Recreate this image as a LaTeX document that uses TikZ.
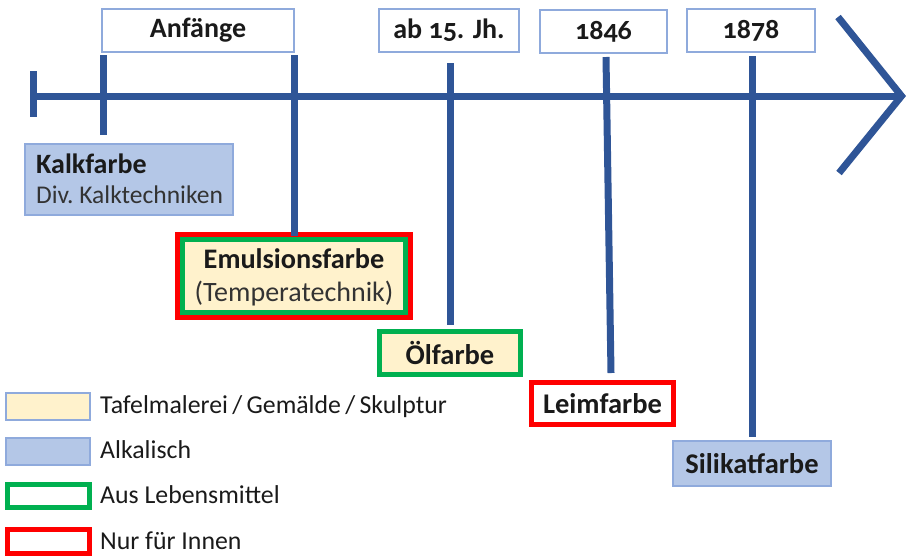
\documentclass[tikz,border=0pt]{standalone}
\usepackage{fontspec}
\setmainfont{Carlito}[Numbers=OldStyle]
\definecolor{axisblue}{HTML}{2F5597}
\definecolor{frameblue}{HTML}{8FAADC}
\definecolor{fillblue}{HTML}{B4C7E7}
\definecolor{cream}{HTML}{FFF2CC}
\definecolor{okgreen}{HTML}{00B050}
\definecolor{inred}{HTML}{FF0000}
\definecolor{txt}{HTML}{1A1A1A}
\definecolor{subtxt}{HTML}{333333}
\newcommand{\fs}[1]{\fontsize{#1}{#1}\selectfont}
\tikzset{
  axis/.style={draw=axisblue, line width=7pt},
  datebox/.style={draw=frameblue, fill=white, line width=1.2pt, inner sep=0pt, outer sep=0pt,
    minimum height=43pt, font=\fs{28}\bfseries, text=txt},
  alkbox/.style={draw=frameblue, fill=fillblue, line width=1.2pt, inner sep=0pt, outer sep=0pt, text=txt},
  foodbox/.style={draw=okgreen, fill=cream, line width=5pt, inner sep=0pt, outer sep=0pt, text=txt},
  indoorbox/.style={draw=inred, fill=white, line width=5pt, inner sep=0pt, outer sep=0pt, text=txt},
  panelbox/.style={draw=frameblue, fill=cream, line width=1.2pt, inner sep=0pt, outer sep=0pt},
  boxlabel/.style={font=\fs{28.5}\bfseries},
  headline/.style={inner sep=0pt, text=txt, font=\fs{28.3}\bfseries},
  subline/.style={inner sep=0pt, text=subtxt, font=\fs{28}},
  keytext/.style={anchor=base west, inner sep=0pt, font=\fs{25.8}, text=txt},
}
\begin{document}
\begin{tikzpicture}[x=1pt, y=-1pt]
\useasboundingbox (0,0) rectangle (910,558);

% date labels above the axis
\node[datebox, minimum width=192pt] (anf)  at (198,30.5)   {Anfänge};
\node[datebox, minimum width=140pt] (ab15) at (449,30.5)   {ab 15. Jh.};
\node[datebox, minimum width=127pt] (y1846) at (603.5,31.5) {1846};
\node[datebox, minimum width=128pt] (y1878) at (751,30.5)  {1878};

% time axis with its arrow head
\coordinate (axL) at (33,96);
\coordinate (tip) at (899,96);
\coordinate (headT) at (838,17);
\coordinate (headB) at (839,173);
\coordinate (tipP) at (901.5,96);
\draw[axis] (axL) -- (tip);
\draw[axis, line join=miter] (headT) -- (tipP) -- (headB);
\coordinate (endT) at (33,71);
\coordinate (endB) at (33,117);
\draw[axis] (endT) -- (endB);

% paint types
\node[alkbox, minimum width=208pt, minimum height=71pt] (kalk) at (129,179.5) {};
\node[headline, anchor=base west, font=\fs{28}\bfseries] (kalkname) at (36,173) {Kalkfarbe};
\node[subline, anchor=base west, font=\fs{25.5}] (kalksub) at (36,203) {Div.\ Kalktechniken};

\node[foodbox, minimum width=223pt, minimum height=73pt] (emul) at (294,276) {};
\draw[inred, line width=5pt] ([shift={(-5pt,5pt)}]emul.north west) rectangle ([shift={(5pt,-5pt)}]emul.south east);
\node[headline, anchor=base] (emulname) at (294,268) {Emulsionsfarbe};
\node[subline, anchor=base] (emulsub) at (294,301) {(Temperatechnik)};

\node[foodbox, boxlabel, minimum width=141pt, minimum height=43pt] (oel) at (450,353) {Ölfarbe};
\node[indoorbox, boxlabel, minimum width=142pt, minimum height=42pt] (leim) at (602.5,403.5) {Leimfarbe};
\node[alkbox, boxlabel, minimum width=158pt, minimum height=45pt] (silikat) at (752,463.5) {Silikatfarbe};

% ticks from the date labels down to the paint types
\coordinate (t1) at (103,55);
\coordinate (t2) at (294,55);
\coordinate (t3) at (450,63);
\coordinate (t4) at (606,57);
\coordinate (t5) at (752,56);
\draw[axis] (t1) -- ([yshift=9pt]kalk.north -| t1);
\draw[axis] (t2) -- ([yshift=4pt]emul.north);
\draw[axis] (t3) -- ([yshift=6.5pt]oel.north);
\draw[axis] (t4) -- ([xshift=8.5pt,yshift=9.5pt]leim.north);
\draw[axis] (t5) -- ([yshift=4pt]silikat.north);

% legend
\node[panelbox, minimum width=84pt, minimum height=27pt] (keyA) at (48,406.5) {};
\node[alkbox, minimum width=84pt, minimum height=27pt] (keyB) at (48,451.5) {};
\node[foodbox, fill=white, minimum width=82pt, minimum height=23pt] (keyC) at (48.5,496) {};
\node[indoorbox, minimum width=82pt, minimum height=24pt] (keyD) at (48.5,541.5) {};
\node[keytext] (keyAt) at (100,413) {Tafelmalerei\,/\,Gemälde\,/\,Skulptur};
\node[keytext] (keyBt) at (100,458) {Alkalisch};
\node[keytext] (keyCt) at (100,503) {Aus Lebensmittel};
\node[keytext] (keyDt) at (100,549) {Nur für Innen};
\end{tikzpicture}
\end{document}
